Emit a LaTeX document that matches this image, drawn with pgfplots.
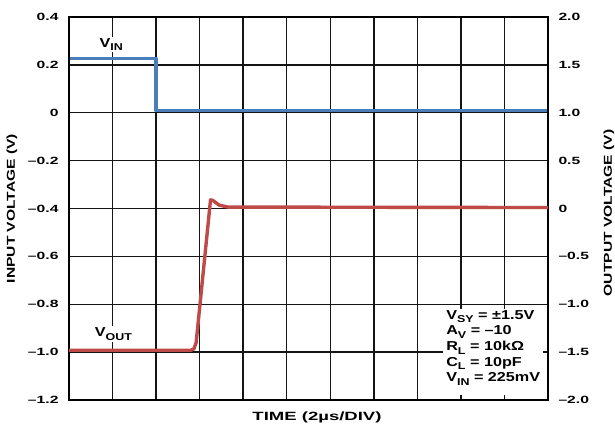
\documentclass[border=0pt]{standalone}
\usepackage{fontspec}
\setmainfont{Liberation Sans}
\newfontfamily\B{Liberation Sans Bold}
\newfontfamily\labf{Liberation Sans Bold}[FakeStretch=1.55]
\newfontfamily\ylabf{Liberation Sans Bold}[FakeStretch=1.36]
\newfontfamily\annf{Liberation Sans Bold}[FakeStretch=1.25]
\usepackage{graphicx}
\usepackage{pgfplots}
\pgfplotsset{compat=1.18}
\newcommand\wx[1]{\scalebox{1.5}[1]{\B\fontsize{10.5}{12}\selectfont #1}}
\newcommand\sub[1]{\raisebox{-0.5ex}{\fontsize{10}{10}\selectfont #1}}
\definecolor{vin}{RGB}{74,126,187}
\definecolor{vout}{RGB}{190,75,72}
\definecolor{gridc}{RGB}{20,20,20}
\begin{document}
\begin{tikzpicture}
\begin{axis}[name=ax1, scale only axis, width=479bp, height=383bp,
  xmin=0, xmax=11, ymin=-1.2, ymax=0.4,
  xtick={0,1,2,3,4,5,6,7,8,9,10,11}, xticklabels={},
  ytick={-1.2,-1.0,-0.8,-0.6,-0.4,-0.2,0,0.2,0.4},
  yticklabels={\wx{–1.2},\wx{–1.0},\wx{–0.8},\wx{–0.6},\wx{–0.4},\wx{–0.2},\wx{0},\wx{0.2},\wx{0.4}},
  yticklabel style={xshift=-7bp},
  grid=major, grid style={gridc, line width=1.4bp},
  major tick length=0pt,
  axis line style={line width=2bp},
]
\addplot[vin, line width=3.2bp, line join=round] coordinates {(0,0.227) (2.0,0.227) (2.0,0.008) (11,0.008)};
\fill[white] (axis cs:8.59,-0.82) rectangle (axis cs:11,-1.2);
\node[fill=white, inner sep=1.5bp, font=\annf\fontsize{13}{15.7}\selectfont] at (axis cs:0.97,0.285) {V\sub{IN}};
\node[fill=white, inner sep=1.5bp, font=\annf\fontsize{13}{15.7}\selectfont] at (axis cs:1.02,-0.925) {V\sub{OUT}};
\node[anchor=north west, inner sep=0pt, align=left, font=\annf\fontsize{13}{15.7}\selectfont] at (axis cs:8.66,-0.825)
  {V\sub{SY} = ±1.5V\\A\sub{V} = –10\\R\sub{L} = 10kΩ\\C\sub{L} = 10pF\\V\sub{IN} = 225mV};
\end{axis}
\begin{axis}[name=ax2, scale only axis, width=479bp, height=383bp,
  xmin=0, xmax=11, ymin=-2, ymax=2,
  xtick={0,1,2,3,4,5,6,7,8,9,10,11}, xticklabels={},
  ytick={-2,-1.5,-1,-0.5,0,0.5,1,1.5,2},
  yticklabels={\wx{–2.0},\wx{–1.5},\wx{–1.0},\wx{–0.5},\wx{0},\wx{0.5},\wx{1.0},\wx{1.5},\wx{2.0}},
  yticklabel pos=right,
  yticklabel style={xshift=7bp},
  major tick length=5bp, tick style={gridc, line width=1.4bp},
  axis line style={line width=2bp},
]
\addplot[vout, line width=3.4bp, line join=round] coordinates {(0,-1.48) (2.8,-1.48) (2.87,-1.465) (2.92,-1.40) (3.25,0.09) (3.30,0.085) (3.45,0.035) (3.65,0.015) (11,0.01)};
\end{axis}
\node[font=\labf\fontsize{12}{14}\selectfont] at ([xshift=8.5bp, yshift=-17bp]ax1.south) {TIME (2µs/DIV)};
\node[rotate=90, font=\ylabf\fontsize{11.5}{13}\selectfont] at ([xshift=-57bp]ax1.west) {INPUT VOLTAGE (V)};
\node[rotate=90, font=\ylabf\fontsize{11.5}{13}\selectfont] at ([xshift=61bp, yshift=-4.5bp]ax1.east) {OUTPUT VOLTAGE (V)};
\pgfresetboundingbox
\path ([xshift=-69bp,yshift=-28bp]ax1.south west) rectangle ([xshift=67bp,yshift=17bp]ax1.north east);
\end{tikzpicture}
\end{document}
